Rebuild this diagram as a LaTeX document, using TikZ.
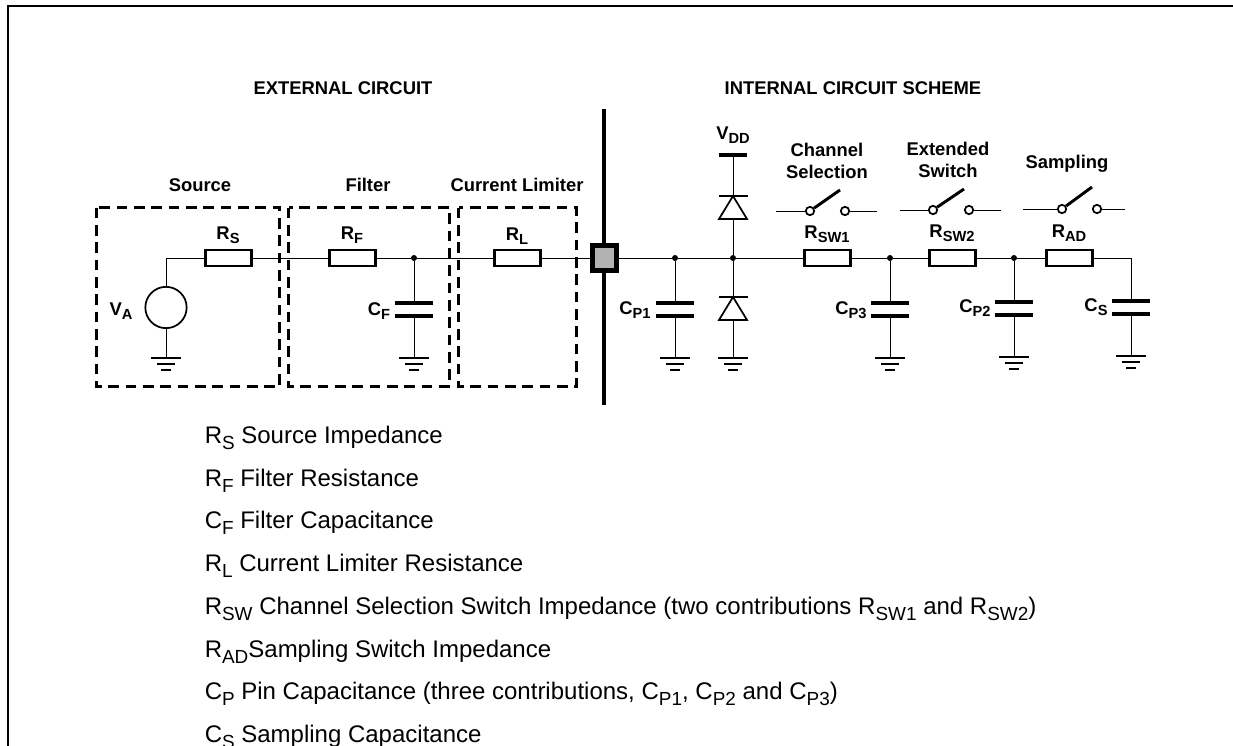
\documentclass[tikz,border=0pt]{standalone}
\usepackage{fontspec}
\setmainfont{Liberation Sans}
\usetikzlibrary{calc}
\newcommand{\lgd}[2]{#1\raisebox{-0.27em}{\fontsize{14.2}{16}\selectfont #2}}
\newcommand{\lbl}[2]{#1\raisebox{-0.22em}{\fontsize{11}{13}\selectfont #2}}
\tikzset{
  x=0.75pt,y=-0.75pt,
  wire/.style={line width=0.75pt,black},
  res/.style={draw,line width=2.1pt,fill=white,minimum width=35pt,minimum height=12pt,inner sep=0pt,outer sep=0pt},
  dashbox/.style={draw,line width=2.25pt,dash pattern=on 8pt off 5pt},
  plate/.style={line width=3.4pt},
  hv/.style={font=\bfseries\fontsize{13.8}{15}\selectfont,inner sep=0pt,anchor=base},
  hvm/.style={font=\bfseries\fontsize{13.8}{15}\selectfont,inner sep=0pt,align=center},
  head/.style={font=\bfseries\fontsize{13.8}{15}\selectfont,inner sep=0pt,anchor=base},
  lgdtext/.style={font=\fontsize{18}{20}\selectfont,inner sep=0pt,anchor=base west},
  dot/.style={circle,fill=black,inner sep=0pt,minimum size=4.5pt},
  term/.style={circle,draw,line width=1.3pt,fill=white,inner sep=0pt,minimum size=6.3pt},
  src/.style={circle,draw,line width=1.3pt,inner sep=0pt,minimum size=31pt,outer sep=0pt},
  pad/.style={draw,line width=3.6pt,fill=black!30,minimum size=18.3pt,inner sep=0pt},
  bar/.style={line width=3.5pt},
  gnd/.pic={\draw[line width=2.2pt] (-15,0)--(15,0);\draw[line width=2.2pt] (-9,6)--(9,6);\draw[line width=2.2pt] (-5,12)--(5,12);},
  diode/.pic={\draw[line width=1.3pt,line join=miter,fill=white] (0,0)--(14,23)--(-14,23)--cycle;\draw[line width=2.2pt] (-14.5,0)--(14.5,0);}
}
\begin{document}
\begin{tikzpicture}
\useasboundingbox (0,0) rectangle (1233,746);
% frame
\draw[line width=1.5pt] (8,760)--(8,6)--(1240,6);
% headings
\node[head] at (343,94.5) {EXTERNAL CIRCUIT};
\node[head] at (853,94.5) {INTERNAL CIRCUIT SCHEME};
\node[head] at (200,191) {Source};
\node[head] at (368,191) {Filter};
\node[head] at (517,191) {Current Limiter};
% dashed boxes
\draw[dashbox] (96.5,207.5) rectangle (279.5,386.5);
\draw[dashbox] (288.5,207.5) rectangle (449.5,386.5);
\draw[dashbox] (458.5,207.5) rectangle (576.5,386.5);
% resistors
\node[res] (RS) at (228.5,258) {};
\node[res] (RF) at (352.5,258) {};
\node[res] (RL) at (517.5,258) {};
\node[res] (RSW1) at (827.5,258) {};
\node[res] (RSW2) at (952.5,258) {};
\node[res] (RAD) at (1069.5,258) {};
% bus bar and pad
\coordinate (bt) at (604,109);
\coordinate (bb) at (604,405);
\draw[bar] (bt)--(bb);
\node[pad] (PAD) at (604.5,258) {};
% junctions
\node[dot] (J1) at (414,258) {};
\node[dot] (J2) at (675,258) {};
\node[dot] (J3) at (733,258) {};
\node[dot] (J4) at (890,258) {};
\node[dot] (J5) at (1014,258) {};
\coordinate (JC) at (1131,258);
\coordinate (JS) at (166,258);
% source
\node[src] (VA) at (166,307.5) {};
% caps & grounds
\foreach \n/\x/\pa/\pb/\g in {F/414/303/316/358,P1/675/303/316/358,P3/890/303/316/358,P2/1014/302/315/357,S/1131/301/314/356}{
  \coordinate (\n t) at (\x,\pa);
  \coordinate (\n b) at (\x,\pb);
  \coordinate (\n g) at (\x,\g);
  \draw[plate] ($(\n t)+(-19,0)$)--($(\n t)+(19,0)$);
  \draw[plate] ($(\n b)+(-19,0)$)--($(\n b)+(19,0)$);
  \draw[wire] (\n b)--(\n g);
  \pic at (\n g) {gnd};
}
\draw[wire] (J1)--(Ft);
\draw[wire] (J2)--(P1t);
\draw[wire] (J4)--(P3t);
\draw[wire] (J5)--(P2t);
\draw[wire] (JC)--(St);
% source ground
\coordinate (VAg) at (166,358);
\draw[wire] (VA)--(VAg);
\pic at (VAg) {gnd};
% horizontal chain
\draw[wire] (VA)--(JS)--(RS);
\draw[wire] (RS)--(RF);
\draw[wire] (RF)--(J1);
\draw[wire] (J1)--(RL);
\draw[wire] (RL)--(PAD);
\draw[wire] (PAD)--(J2);
\draw[wire] (J2)--(J3);
\draw[wire] (J3)--(RSW1);
\draw[wire] (RSW1)--(J4);
\draw[wire] (J4)--(RSW2);
\draw[wire] (RSW2)--(J5);
\draw[wire] (J5)--(RAD);
\draw[wire] (RAD)--(JC);
% diodes
\coordinate (Vb) at (733,155);
\coordinate (D1) at (733,196);
\coordinate (D1b) at (733,219);
\coordinate (D2) at (733,297);
\coordinate (D2b) at (733,320);
\coordinate (Dg) at (733,358);
\draw[bar] ($(Vb)+(-14,0)$)--($(Vb)+(14,0)$);
\draw[wire] (Vb)--(D1);
\draw[wire] (D1b)--(J3);
\draw[wire] (J3)--(D2);
\draw[wire] (D2b)--(Dg);
\pic at (D1) {diode};
\pic at (D2) {diode};
\pic at (Dg) {gnd};
% switches
\foreach \n/\l/\a/\b/\r/\y/\lx/\ly in {A/776/810/845/877/211/840/190,B/900/933/969/1001/210/964/189,C/1023/1062/1097/1125/209/1092/187}{
  \coordinate (\n l) at (\l,\y);
  \coordinate (\n r) at (\r,\y);
  \coordinate (\n lev) at (\lx,\ly);
  \node[term] (\n a) at (\a,\y) {};
  \node[term] (\n b) at (\b,\y) {};
  \draw[wire] (\n l)--(\n a);
  \draw[wire] (\n b)--(\n r);
  \draw[line width=2.2pt] (\n a)--(\n lev);
}
% labels
\node[hv] at (228,239) {\lbl{R}{S}};
\node[hv] at (352,239) {\lbl{R}{F}};
\node[hv] at (517,240) {\lbl{R}{L}};
\node[hv] at (827,238) {\lbl{R}{SW1}};
\node[hv] at (952,237) {\lbl{R}{SW2}};
\node[hv] at (1069,237) {\lbl{R}{AD}};
\node[hv] at (121,315) {\lbl{V}{A}};
\node[hv] at (379,315) {\lbl{C}{F}};
\node[hv] at (635,314) {\lbl{C}{P1}};
\node[hv] at (851,314) {\lbl{C}{P3}};
\node[hv] at (975,312) {\lbl{C}{P2}};
\node[hv] at (1096,311) {\lbl{C}{S}};
\node[hv] at (733,139) {\lbl{V}{DD}};
\node[hvm] at (827,161) {Channel\\[1.5pt]Selection};
\node[hvm] at (948,160) {Extended\\[1.5pt]Switch};
\node[hv] at (1067,168) {Sampling};
% legend
\node[lgdtext] at (204.5,443) {\lgd{R}{S} Source Impedance};
\node[lgdtext] at (204.5,486) {\lgd{R}{F} Filter Resistance};
\node[lgdtext] at (204.5,528) {\lgd{C}{F} Filter Capacitance};
\node[lgdtext] at (204.5,571) {\lgd{R}{L} Current Limiter Resistance};
\node[lgdtext] at (204.5,614) {\lgd{R}{SW} Channel Selection Switch Impedance (two contributions \lgd{R}{SW1} and \lgd{R}{SW2})};
\node[lgdtext] at (204.5,657) {\lgd{R}{AD}Sampling Switch Impedance};
\node[lgdtext] at (204.5,699) {\lgd{C}{P} Pin Capacitance (three contributions, \lgd{C}{P1}, \lgd{C}{P2} and \lgd{C}{P3})};
\node[lgdtext] at (204.5,742) {\lgd{C}{S} Sampling Capacitance};
\end{tikzpicture}
\end{document}
